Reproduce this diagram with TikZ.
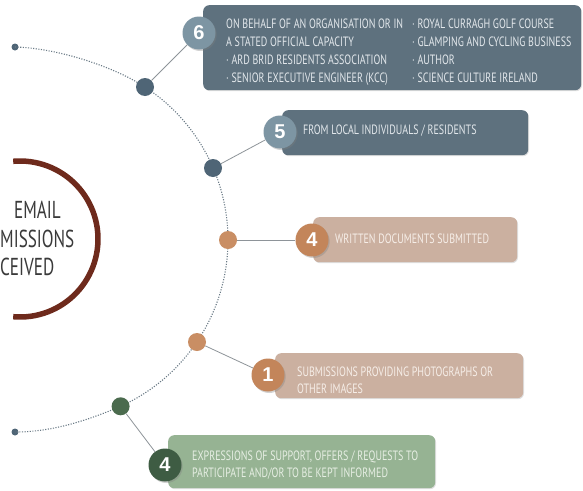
\documentclass[tikz,border=0pt]{standalone}
\usepackage{fontspec}
\setmainfont{Liberation Sans}
\newfontfamily\condfont[FakeStretch=0.74]{PT Sans}
\newfontfamily\titlefont[FakeStretch=0.70]{PT Sans}
\usetikzlibrary{shadows}
\definecolor{slatebox}{HTML}{5E717E}
\definecolor{slatebadge}{HTML}{7D95A3}
\definecolor{slatedot}{HTML}{4F6576}
\definecolor{slatetxt}{HTML}{E2E7EB}
\definecolor{tanbox}{HTML}{CBB0A0}
\definecolor{tanbadge}{HTML}{C3855A}
\definecolor{tandot}{HTML}{C98E64}
\definecolor{tantxt}{HTML}{F6EEE8}
\definecolor{greenbox}{HTML}{96B393}
\definecolor{greenbadge}{HTML}{3E5C43}
\definecolor{greendot}{HTML}{4B6B4E}
\definecolor{greentxt}{HTML}{E6EEE3}
\definecolor{arcgray}{HTML}{6A7A86}
\definecolor{linkgray}{HTML}{8E9499}
\definecolor{brownarc}{HTML}{6E2A1C}
\definecolor{titlegray}{HTML}{3A3A3A}
\tikzset{
  arcline/.style={draw=arcgray, line width=1.1pt, dash pattern=on 1.1pt off 1.5pt},
  link/.style={draw=linkgray, line width=0.8pt},
  dotnode/.style={circle, minimum size=18pt, inner sep=0pt},
  enddot/.style={circle, fill=slatedot, minimum size=7pt, inner sep=0pt},
  infobox/.style={rounded corners=6pt, anchor=north west, inner sep=0pt,
    drop shadow={shadow xshift=0.8pt, shadow yshift=-1pt, opacity=0.25}},
  badge/.style={circle, minimum size=33pt, inner sep=0pt, text=white,
    font=\bfseries\fontsize{20}{20}\selectfont,
    drop shadow={shadow xshift=1.2pt, shadow yshift=-1.5pt, opacity=0.35}},
  btxt/.style={anchor=base west, inner sep=0pt, font=\condfont\fontsize{13.5}{15}\selectfont},
  ttxt/.style={anchor=base west, inner sep=0pt, text=titlegray, font=\titlefont\fontsize{24.5}{26}\selectfont},
}
\begin{document}
\begin{tikzpicture}[x=1pt,y=-1pt]
\clip (0,0) rectangle (583,490);
\fill[white] (0,0) rectangle (583,490);

% brown arc and title
\draw[draw=brownarc, line width=5.5pt] plot[domain=-95:95, samples=60] ({20+78*cos(\x)},{239+78*sin(\x)});
\node[ttxt] (title1) at (14,218) {EMAIL};
\node[ttxt] (title2) at (0,247) {MISSIONS};
\node[ttxt] (title3) at (0,275) {CEIVED};

% dotted arc
\coordinate (arcA) at (145,87);
\coordinate (arcB) at (120.6,406.3);
\node[enddot] (endtop) at (15,47) {};
\node[enddot] (endbot) at (15,432) {};
\draw[arcline] (endtop.center) .. controls (55,48) and (111,65) .. (arcA);
\draw[arcline] plot[domain=-57:65.7, samples=90] ({45.5+182.5*cos(\x)},{240+182.5*sin(\x)});
\draw[arcline] (arcB) .. controls (84,422) and (50,432) .. (endbot.center);

% dots
\node[dotnode, fill=slatedot] (d6) at (145,87) {};
\node[dotnode, fill=slatedot] (d5) at (213,168) {};
\node[dotnode, fill=tandot] (d4) at (228,240) {};
\node[dotnode, fill=tandot] (d1) at (197,342) {};
\node[dotnode, fill=greendot] (dg) at (120.6,406.3) {};

% boxes
\node[infobox, fill=slatebox, minimum width=378pt, minimum height=85pt] (box6) at (203,5) {};
\node[infobox, fill=slatebox, minimum width=246pt, minimum height=45pt] (box5) at (282,110) {};
\node[infobox, fill=tanbox, minimum width=204pt, minimum height=45pt] (box4) at (313,217) {};
\node[infobox, fill=tanbox, minimum width=248pt, minimum height=45pt] (box1) at (275,353) {};
\node[infobox, fill=greenbox, minimum width=267pt, minimum height=53pt] (boxg) at (168,435) {};

% badges
\node[badge, fill=slatebadge] (b6) at (199,33) {6};
\node[badge, fill=slatebadge] (b5) at (280,132) {5};
\node[badge, fill=tanbadge] (b4) at (312,240) {4};
\node[badge, fill=tanbadge] (b1) at (268,375) {1};
\node[badge, fill=greenbadge] (bg) at (165,465) {4};

% connectors
\draw[link] (d6) -- (b6);
\draw[link] (d5) -- (b5);
\draw[link] (d4) -- (b4);
\draw[link] (d1) -- (b1);
\draw[link] (dg) -- (bg);

% texts
\node[btxt, text=slatetxt] (t6a) at (226,28) {ON BEHALF OF AN ORGANISATION OR IN};
\node[btxt, text=slatetxt] (t6b) at (226,46) {A STATED OFFICIAL CAPACITY};
\node[btxt, text=slatetxt] (t6c) at (226,64) {· ARD BRID RESIDENTS ASSOCIATION};
\node[btxt, text=slatetxt] (t6d) at (226,82) {· SENIOR EXECUTIVE ENGINEER (KCC)};
\node[btxt, text=slatetxt] (t6e) at (412,28) {· ROYAL CURRAGH GOLF COURSE};
\node[btxt, text=slatetxt] (t6f) at (412,46) {· GLAMPING AND CYCLING BUSINESS};
\node[btxt, text=slatetxt] (t6g) at (412,64) {· AUTHOR};
\node[btxt, text=slatetxt] (t6h) at (412,82) {· SCIENCE CULTURE IRELAND};
\node[btxt, text=slatetxt] (t5) at (303,134) {FROM LOCAL INDIVIDUALS / RESIDENTS};
\node[btxt, text=tantxt] (t4) at (335,243) {WRITTEN DOCUMENTS SUBMITTED};
\node[btxt, text=tantxt] (t1a) at (297,376) {SUBMISSIONS PROVIDING PHOTOGRAPHS OR};
\node[btxt, text=tantxt] (t1b) at (297,393) {OTHER IMAGES};
\node[btxt, text=greentxt] (tga) at (192,460) {EXPRESSIONS OF SUPPORT, OFFERS / REQUESTS TO};
\node[btxt, text=greentxt] (tgb) at (192,477) {PARTICIPATE AND/OR TO BE KEPT INFORMED};
\end{tikzpicture}
\end{document}
